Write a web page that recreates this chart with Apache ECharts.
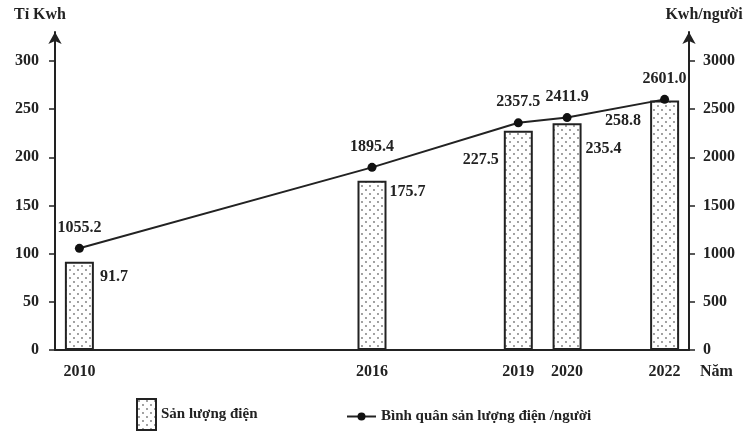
<!DOCTYPE html>
<html><head><meta charset="utf-8">
<script src="https://cdn.jsdelivr.net/npm/echarts@6/dist/echarts.min.js"></script>
<style>html,body{margin:0;padding:0;background:#fff}#c{width:753px;height:431px}</style>
</head><body><div id="c"></div>
<script>
const years = [2010, 2016, 2019, 2020, 2022];
const production = [91.7, 175.7, 227.5, 235.4, 258.8];
const perCapita = [1055.2, 1895.4, 2357.5, 2411.9, 2601.0];
const leftTicks = [0, 50, 100, 150, 200, 250, 300];
const rightTicks = [0, 500, 1000, 1500, 2000, 2500, 3000];

// label placement style for bar value labels (relative to bar top-left)
const barLabelStyle = [
  {position: [35, 15], align: 'left'},
  {position: [32, 11], align: 'left'},
  {position: [-5, 29], align: 'right'},
  {position: [33, 26], align: 'left'},
  {position: [-9, 20], align: 'right'}
];

function makePattern() {
  const c = document.createElement('canvas');
  c.width = 8; c.height = 8;
  const g = c.getContext('2d');
  g.fillStyle = '#fff'; g.fillRect(0, 0, 8, 8);
  g.fillStyle = '#777';
  g.beginPath(); g.arc(2, 2, 0.9, 0, Math.PI * 2); g.fill();
  g.beginPath(); g.arc(6, 6, 0.9, 0, Math.PI * 2); g.fill();
  return {image: c, repeat: 'repeat'};
}
const pattern = makePattern();
const FONT = 'Liberation Serif';
const txt = {fontFamily: FONT, fontWeight: 'bold', fontSize: 16, color: '#222'};

const chart = echarts.init(document.getElementById('c'));
chart.setOption({
  animation: false,
  textStyle: {fontFamily: FONT},
  grid: {left: 55, right: 64, top: 32, bottom: 81},
  legend: [
    {data: ['Sản lượng điện'], icon: 'rect', left: 131, top: 393, itemWidth: 19, itemHeight: 31, itemGap: 10,
     textStyle: {fontFamily: FONT, fontWeight: 'bold', fontSize: 15, color: '#222'}},
    {data: ['Bình quân sản lượng điện /người'], left: 341, top: 404, itemWidth: 29, itemHeight: 10, itemGap: 10,
     textStyle: {fontFamily: FONT, fontWeight: 'bold', fontSize: 15, color: '#222'}}
  ],
  xAxis: {
    type: 'value', min: 2009.5, max: 2022.5,
    name: 'Năm', nameLocation: 'end', nameGap: 11,
    nameTextStyle: Object.assign({}, txt, {padding: [14, 0, 0, 0], verticalAlign: 'top'}),
    axisLine: {lineStyle: {color: '#222', width: 2}},
    axisTick: {show: false},
    splitLine: {show: false},
    axisLabel: Object.assign({}, txt, {customValues: years, margin: 14, formatter: v => String(v)})
  },
  yAxis: [
    {
      type: 'value', min: 0, max: 330, position: 'left',
      name: 'Tỉ Kwh', nameLocation: 'end', nameGap: 9,
      nameTextStyle: Object.assign({}, txt, {padding: [0, 30, 0, 0]}),
      axisLine: {show: true, symbol: ['none', 'arrow'], symbolSize: [10, 12], lineStyle: {color: '#222', width: 2}},
      axisTick: {show: true, customValues: leftTicks, length: 6, lineStyle: {color: '#222', width: 1.5}},
      axisLabel: Object.assign({}, txt, {customValues: leftTicks, margin: 16, formatter: v => String(v)}),
      splitLine: {show: false}
    },
    {
      type: 'value', min: 0, max: 3300, position: 'right',
      name: 'Kwh/người', nameLocation: 'end', nameGap: 9,
      nameTextStyle: Object.assign({}, txt, {padding: [0, 0, 0, 30]}),
      axisLine: {show: true, symbol: ['none', 'arrow'], symbolSize: [10, 12], lineStyle: {color: '#222', width: 2}},
      axisTick: {show: true, customValues: rightTicks, length: 6, lineStyle: {color: '#222', width: 1.5}},
      axisLabel: Object.assign({}, txt, {customValues: rightTicks, margin: 14, formatter: v => String(v)}),
      splitLine: {show: false}
    }
  ],
  series: [
    {
      name: 'Sản lượng điện', type: 'bar', yAxisIndex: 0, barWidth: 29,
      itemStyle: {color: pattern, borderColor: '#222', borderWidth: 2},
      data: years.map((y, i) => ({
        value: [y, production[i]],
        label: Object.assign({show: true, verticalAlign: 'middle'}, barLabelStyle[i])
      })),
      label: Object.assign({show: true, formatter: p => p.value[1].toFixed(1)}, txt)
    },
    {
      name: 'Bình quân sản lượng điện /người', type: 'line', yAxisIndex: 1,
      symbol: 'circle', symbolSize: 9,
      lineStyle: {color: '#222', width: 2},
      itemStyle: {color: '#111'},
      data: years.map((y, i) => [y, perCapita[i]]),
      label: Object.assign({show: true, position: 'top', distance: 8, formatter: p => p.value[1].toFixed(1)}, txt)
    }
  ]
});
</script></body></html>
